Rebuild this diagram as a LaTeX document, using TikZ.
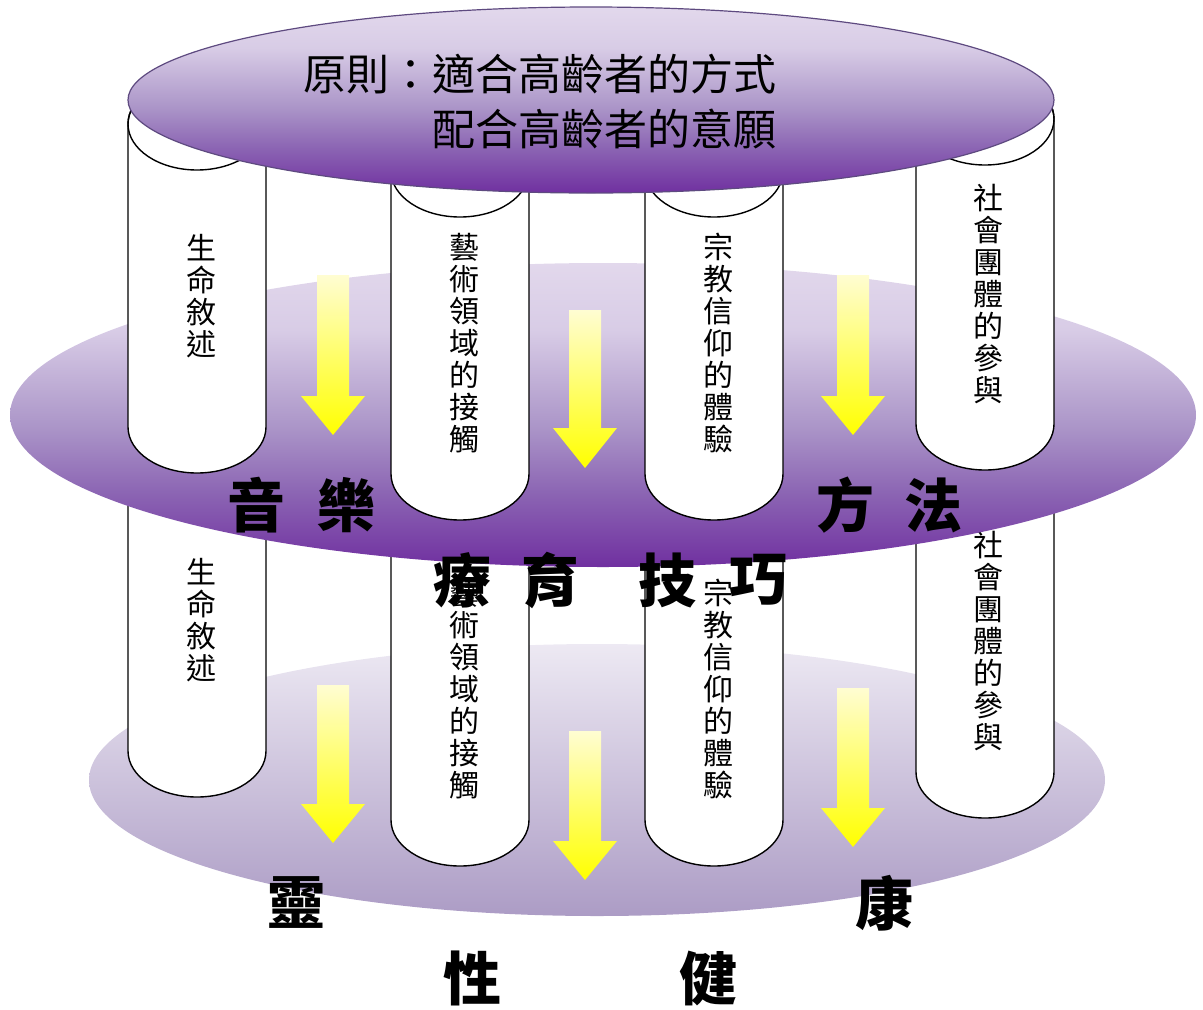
\documentclass[tikz,border=0pt]{standalone}
\usepackage{fontspec}
\newfontfamily\cjk{Noto Sans CJK TC}
\definecolor{pdark}{HTML}{7030A0}
\definecolor{pm1}{HTML}{8B64B3}
\definecolor{pm2}{HTML}{AB95C8}
\definecolor{pm3}{HTML}{D8CCE6}
\definecolor{plight}{HTML}{E2D8EC}
\definecolor{bltop}{HTML}{EDE9F3}
\definecolor{blbot}{HTML}{AC9CC5}
\definecolor{ytop}{HTML}{FFFDD2}
\definecolor{edgep}{HTML}{5E4A80}
\pgfdeclareverticalshading{purpshade}{100bp}{color(0bp)=(pdark); color(25bp)=(pdark); color(37bp)=(pm1); color(48bp)=(pm2); color(64bp)=(pm3); color(75bp)=(plight); color(100bp)=(plight)}
\newcommand\upcyl[3]{%
  \path[cylbody] (#1,#2) -- (#1,#3) arc[start angle=180,end angle=360,x radius=69pt,y radius=46pt] -- ({#1+138},#2) arc[start angle=0,end angle=180,x radius=69pt,y radius=46pt] -- cycle;
  \draw[cylline] ({#1+69},#2) ellipse [x radius=69pt,y radius=46pt];}
\newcommand\lowcyl[3]{%
  \path[cylbody] (#1,#2) -- (#1,#3) arc[start angle=180,end angle=360,x radius=69pt,y radius=46pt] -- ({#1+138},#2) -- cycle;}
\newcommand\yarr[4]{%
  \path[yarrow] ({#1-16},#2) -- ({#1+16},#2) -- ({#1+16},#3) -- ({#1+32},#3) -- (#1,#4) -- ({#1-32},#3) -- ({#1-16},#3) -- cycle;}
\begin{document}
\begin{tikzpicture}[x=1pt,y=-1pt,
  cylbody/.style={fill=white,draw=black,line width=1.4pt},
  cylline/.style={draw=black,line width=1.4pt},
  yarrow/.style={top color=ytop,bottom color=yellow,draw=none},
  coltext/.style={font=\cjk\fontsize{30}{32}\selectfont,align=center,inner sep=0pt},
  bigchar/.style={font=\cjk\bfseries\fontsize{58}{60}\selectfont,inner sep=0pt},
  toptext/.style={font=\cjk\fontsize{43}{50}\selectfont,inner sep=0pt,anchor=west}]
\useasboundingbox (0,0) rectangle (1203,1010);
% bottom layer
\shade[top color=bltop,bottom color=blbot] (597,780) ellipse [x radius=508pt,y radius=136pt];
\lowcyl{128}{440}{751}
\lowcyl{391}{460}{820}
\lowcyl{645}{460}{820}
\lowcyl{916}{440}{772}
\node[coltext] (l1) at (201,620) {生\\命\\敘\\述};
\node[coltext] (l2) at (464,689) {藝\\術\\領\\域\\的\\接\\觸};
\node[coltext] (l3) at (718,689) {宗\\教\\信\\仰\\的\\體\\驗};
\node[coltext] (l4) at (988,641) {社\\會\\團\\體\\的\\參\\與};
\yarr{333}{685}{804}{843}
\yarr{585}{731}{841}{880}
\yarr{853}{688}{808}{847}
% middle layer
\shade[shading=purpshade] (603,415) ellipse [x radius=593pt,y radius=152pt];
\upcyl{128}{124}{427}
\upcyl{391}{171}{474}
\upcyl{645}{171}{474}
\upcyl{916}{119}{424}
\node[coltext] (u1) at (201,296) {生\\命\\敘\\述};
\node[coltext] (u2) at (464,343) {藝\\術\\領\\域\\的\\接\\觸};
\node[coltext] (u3) at (718,343) {宗\\教\\信\\仰\\的\\體\\驗};
\node[coltext] (u4) at (988,294) {社\\會\\團\\體\\的\\參\\與};
\yarr{333}{275}{396}{435}
\yarr{585}{310}{428}{468}
\yarr{853}{275}{396}{435}
% top layer
\path[shade,shading=purpshade,draw=edgep,line width=1.2pt] (591,100) ellipse [x radius=463pt,y radius=93pt];
\node[toptext] (p1) at (303,74) {原則：適合高齡者的方式};
\node[toptext] (p2) at (432,129) {配合高齡者的意願};
% big labels
\node[bigchar] (c1) at (256,505) {音};
\node[bigchar] (c2) at (346,505) {樂};
\node[bigchar] (c3) at (845,505) {方};
\node[bigchar] (c4) at (933,505) {法};
\node[bigchar] (c5) at (462,580) {療};
\node[bigchar] (c6) at (550,580) {育};
\node[bigchar] (c7) at (667,580) {技};
\node[bigchar] (c8) at (758,580) {巧};
\node[bigchar] (c9) at (296,903) {靈};
\node[bigchar] (c10) at (884,903) {康};
\node[bigchar] (c11) at (472,978) {性};
\node[bigchar] (c12) at (708,978) {健};
\end{tikzpicture}
\end{document}
